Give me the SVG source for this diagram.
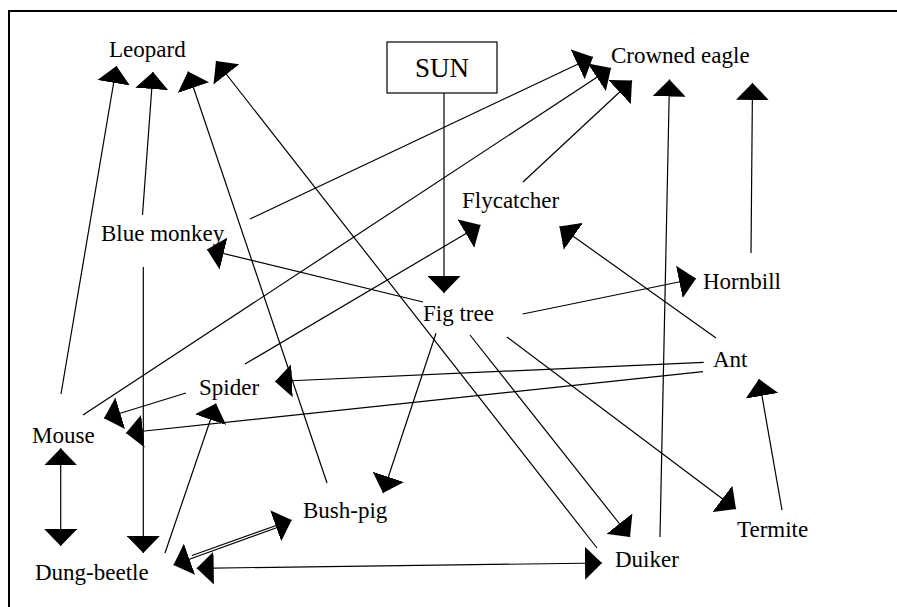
<svg xmlns="http://www.w3.org/2000/svg" width="897" height="607" viewBox="0 0 897 607">
  <style>
    .label { font-family: "Liberation Serif", "Times New Roman", serif; font-size: 23px; fill: #000; }
    .sun { font-family: "Liberation Serif", "Times New Roman", serif; font-size: 27px; fill: #000; }
    .edge { fill: none; stroke: #000; stroke-width: 1.2; }
    .one { marker-end: url(#head); }
    .two { marker-start: url(#head); marker-end: url(#head); }
  </style>
  <defs>
    <!-- wide, short filled arrowhead used on every link -->
    <marker id="head" viewBox="0 0 17 33" refX="17" refY="16.5" markerWidth="17" markerHeight="33" markerUnits="userSpaceOnUse" orient="auto-start-reverse">
      <path d="M0,0 L17,16.5 L0,33 Z" fill="#000"/>
    </marker>
  </defs>

  <rect width="897" height="607" fill="#fff"/>
  <!-- page frame -->
  <path d="M9,612 V11 H900" fill="none" stroke="#000" stroke-width="2"/>

  <!-- feeding links -->
  <g id="connectors">
    <path class="edge one" d="M61,394 L116.5,66"/>
    <path class="edge one" d="M142.5,215 L153,72"/>
    <path class="edge one" d="M143.3,267 L143.3,553"/>
    <path class="edge one" d="M327,483 L188,71.5"/>
    <path class="edge one" d="M597,548 L216,61"/>
    <path class="edge one" d="M250,219 L593,57"/>
    <path class="edge one" d="M83,415 L611,68"/>
    <path class="edge one" d="M523,182 L632,80.5"/>
    <path class="edge one" d="M245,364 L480.5,225"/>
    <path class="edge one" d="M423,302 L207,249.5"/>
    <path class="edge one" d="M444,93 L444,293"/>
    <path class="edge one" d="M660,537 L669.5,79.5"/>
    <path class="edge one" d="M751,253 L752.5,83"/>
    <path class="edge one" d="M522.7,314 L696,278.5"/>
    <path class="edge one" d="M716,338 L559.5,226.5"/>
    <path class="edge one" d="M703.7,362.3 L275,381.5"/>
    <path class="edge one" d="M703,371.7 L126,433"/>
    <path class="edge one" d="M186,393 L104,418.3"/>
    <path class="edge one" d="M436,333.3 L383,493"/>
    <path class="edge one" d="M470,335 L630,537"/>
    <path class="edge one" d="M507,337 L736,509"/>
    <path class="edge one" d="M782,510 L759,379"/>
    <path class="edge two" d="M60.7,448.3 L60.7,546"/>
    <path class="edge one" d="M165,553 L216,403.5"/>
    <path class="edge one" d="M280,526.5 L173.5,565"/>
    <path class="edge one" d="M192,555.5 L291.7,520"/>
    <path class="edge two" d="M196.7,568.3 L602,563"/>
  </g>

  <!-- species and energy source -->
  <g id="sun">
    <rect x="387" y="42" width="110" height="51" fill="#fff" stroke="#000" stroke-width="1.2"/>
    <text class="sun" x="442" y="77" text-anchor="middle">SUN</text>
  </g>
  <g id="leopard"><text class="label" x="109" y="57">Leopard</text></g>
  <g id="crowned-eagle"><text class="label" x="611" y="63">Crowned eagle</text></g>
  <g id="flycatcher"><text class="label" x="462" y="208">Flycatcher</text></g>
  <g id="blue-monkey"><text class="label" x="101" y="241">Blue monkey</text></g>
  <g id="hornbill"><text class="label" x="703" y="289">Hornbill</text></g>
  <g id="fig-tree"><text class="label" x="423" y="321">Fig tree</text></g>
  <g id="ant"><text class="label" x="713" y="367">Ant</text></g>
  <g id="spider"><text class="label" x="199" y="395">Spider</text></g>
  <g id="mouse"><text class="label" x="32" y="443">Mouse</text></g>
  <g id="bush-pig"><text class="label" x="303" y="518">Bush-pig</text></g>
  <g id="termite"><text class="label" x="737" y="537">Termite</text></g>
  <g id="duiker"><text class="label" x="615" y="567">Duiker</text></g>
  <g id="dung-beetle"><text class="label" x="35" y="580">Dung-beetle</text></g>
</svg>
